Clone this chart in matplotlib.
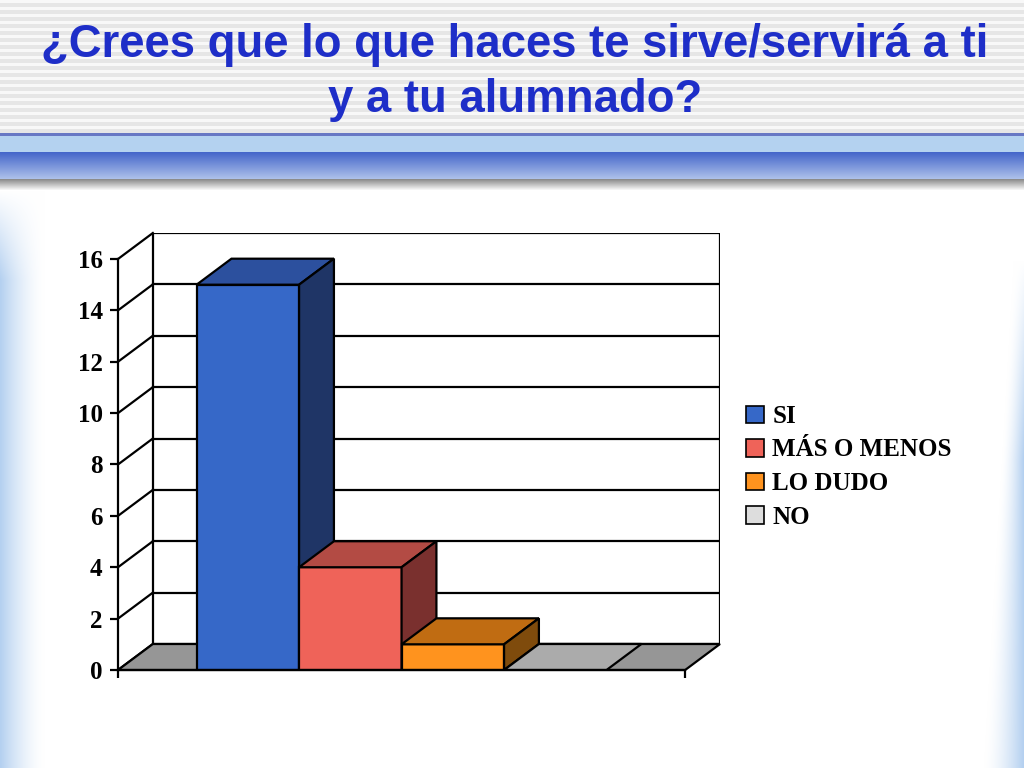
import matplotlib
matplotlib.use("Agg")
import matplotlib.pyplot as plt
from matplotlib.patches import Polygon, Patch
import numpy as np

# Data
categories = ['SI', 'MÁS O MENOS', 'LO DUDO', 'NO']
values = [15, 4, 1, 0]
yticks = [0, 2, 4, 6, 8, 10, 12, 14, 16]
title_lines = ['¿Crees que lo que haces te sirve/servirá a ti', 'y a tu alumnado?']

# Colours per series: front, top, side
front_cols = ['#3668C8', '#EF6359', '#FF931E', '#DDDDDD']
top_cols = ['#2C509E', '#B34B44', '#C06C12', '#ABABAB']
side_cols = ['#1F3566', '#7A302E', '#7F4B0C', '#8A8A8A']

W, H = 1024, 768
fig = plt.figure(figsize=(W / 100, H / 100), dpi=100)

# ---- slide background ----
bg = np.ones((H, W, 3))
# stripes in header
for y in range(0, 134):
    bg[y, :] = 0.975 if (y % 7) < 3 else 0.905
# blue band
bg[133:136, :] = np.array([0x68, 0x78, 0xC4]) / 255
bg[136:152, :] = np.array([0xB4, 0xD2, 0xF0]) / 255
c1 = np.array([0x44, 0x66, 0xCA]) / 255
c2 = np.array([0xAC, 0xC0, 0xEA]) / 255
for y in range(152, 179):
    t = (y - 152) / 26
    bg[y, :] = c1 * (1 - t) + c2 * t
for y in range(179, 190):
    t = (y - 179) / 11
    bg[y, :] = 0.55 * (1 - t) + 1.0 * t
# side glows
glow = np.array([0xB4, 0xD0, 0xF0]) / 255
for y in range(190, H):
    a_top = min(1.0, (y - 190) / 90)
    for x in range(0, 45):
        a = a_top * (1 - x / 45) ** 1.6
        bg[y, x] = bg[y, x] * (1 - a) + glow * a
    if y >= 260:
        a_r = min(1.0, (y - 260) / 200)
        w = 10 + 30 * (y - 260) / (H - 260)
        for x in range(W - 45, W):
            d = W - 1 - x
            if d < w:
                a = a_r * (1 - d / w) ** 1.6
                bg[y, x] = bg[y, x] * (1 - a) + glow * a

bax = fig.add_axes([0, 0, 1, 1], zorder=-1)
bax.imshow(bg, aspect='auto', interpolation='bilinear')
bax.axis('off')

# ---- title ----
title_col = '#1E2EC8'
fig.text(515 / W, 1 - 45 / H, title_lines[0], ha='center', va='center',
         fontsize=32.8, fontweight='bold', family='Liberation Sans', color=title_col)
fig.text(515 / W, 1 - 100 / H, title_lines[1], ha='center', va='center',
         fontsize=32.8, fontweight='bold', family='Liberation Sans', color=title_col)

# ---- pseudo 3D bar chart ----
x0, x1 = -2.767, 2.767   # front floor ends
dx, dy = 0.34, 1.012     # depth offset
ymax = yticks[-1]

ax = fig.add_axes([118 / W, (H - 670) / H, (720 - 118) / W, (670 - 233) / H])
ax.set_xlim(x0, x1 + dx)
ax.set_ylim(0, ymax + dy)
ax.patch.set_alpha(0)
for s in ax.spines.values():
    s.set_visible(False)

lw = 1.6
# back wall + gridlines
ax.add_patch(Polygon([(x0 + dx, dy), (x1 + dx, dy), (x1 + dx, ymax + dy), (x0 + dx, ymax + dy)],
                     closed=True, facecolor='white', edgecolor='black', lw=lw, zorder=1))
for t in yticks:
    ax.plot([x0, x0 + dx], [t, t + dy], color='black', lw=lw, zorder=2, clip_on=False)
    if 0 < t < ymax:
        ax.plot([x0 + dx, x1 + dx], [t + dy, t + dy], color='black', lw=lw, zorder=2)
# floor
ax.add_patch(Polygon([(x0, 0), (x1, 0), (x1 + dx, dy), (x0 + dx, dy)],
                     closed=True, facecolor='#969696', edgecolor='black', lw=lw, zorder=2, clip_on=False))
ax.plot([x0, x0], [0, ymax], color='black', lw=lw, zorder=2, clip_on=False)

# bars: front face via ax.bar, top and side faces as polygons
lefts = [-2 + i for i in range(len(values))]
z = 3
for i, v in enumerate(values):
    l, r = lefts[i], lefts[i] + 1
    ax.bar(l, v, width=1, align='edge', color=front_cols[i], edgecolor='black',
           lw=lw, zorder=z)
    ax.add_patch(Polygon([(l, v), (r, v), (r + dx, v + dy), (l + dx, v + dy)], closed=True,
                         facecolor=top_cols[i], edgecolor='black', lw=lw, zorder=z))
    if v > 0:
        ax.add_patch(Polygon([(r, 0), (r + dx, dy), (r + dx, v + dy), (r, v)], closed=True,
                             facecolor=side_cols[i], edgecolor='black', lw=lw, zorder=z))
    z += 1

# front floor edge drawn last
ax.plot([x0, x1], [0, 0], color='black', lw=lw, zorder=z, clip_on=False)

ax.set_yticks(yticks)
ax.set_yticklabels([str(t) for t in yticks], fontsize=18, fontweight='bold',
                   family='Liberation Serif')
ax.tick_params(axis='y', length=6, width=lw, pad=5, left=True)
ax.set_xticks([x0, x1])
ax.set_xticklabels(['', ''])
ax.tick_params(axis='x', length=6, width=lw, bottom=True)

# legend
handles = [Patch(facecolor=front_cols[i], edgecolor='black', lw=1.2, label=c)
           for i, c in enumerate(categories)]
fig.legend(handles=handles, loc='upper left', bbox_to_anchor=(736 / W, 1 - 395 / H),
           frameon=False, prop={'family': 'Liberation Serif', 'weight': 'bold', 'size': 18},
           handlelength=0.7, handleheight=0.7, handletextpad=0.35, labelspacing=0.42,
           borderaxespad=0)

fig.savefig('out.png', dpi=100)
